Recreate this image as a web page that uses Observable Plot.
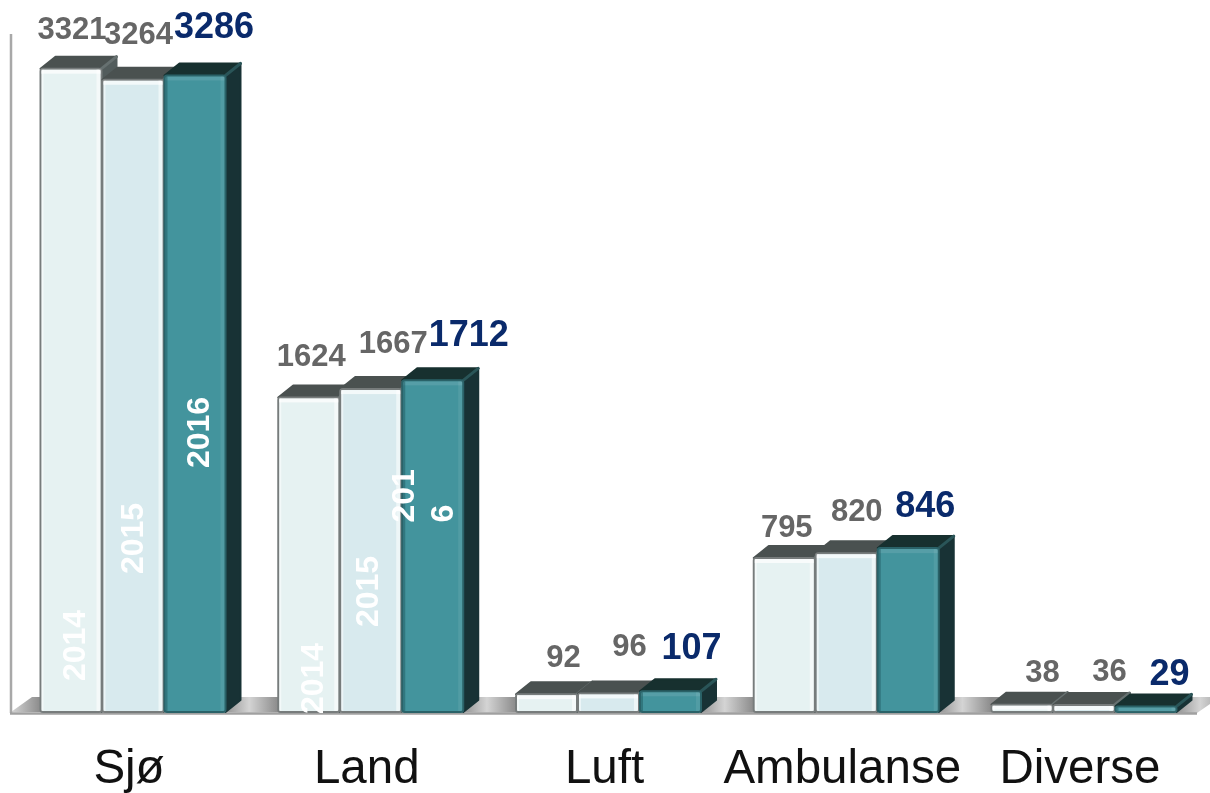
<!DOCTYPE html>
<html>
<head>
<meta charset="utf-8">
<script src="https://cdn.jsdelivr.net/npm/d3@7"></script>
<script src="https://cdn.jsdelivr.net/npm/@observablehq/plot@0.6"></script>
<style>
  html, body { margin: 0; padding: 0; background: #fff; }
  svg { display: block; filter: blur(0.45px); }
</style>
</head>
<body>
<div id="chart"></div>
<script>
// Data
const categories = ["Sjø", "Land", "Luft", "Ambulanse", "Diverse"];
const years = ["2014", "2015", "2016"];
const values2014 = [3321, 1624, 92, 795, 38];
const values2015 = [3264, 1667, 96, 820, 36];
const values2016 = [3286, 1712, 107, 846, 29];
const yearLabels = [
  {category: "Sjø", year: "2014", text: "2014"},
  {category: "Sjø", year: "2015", text: "2015"},
  {category: "Sjø", year: "2016", text: "2016"},
  {category: "Land", year: "2014", text: "2014"},
  {category: "Land", year: "2015", text: "2015"},
  {category: "Land", year: "2016", text: "201\n6"}
];

// Style
const frontColors = ["#e6f2f2", "#d8eaee", "#43949d"];
const topColors = {"#e6f2f2": "#4a5150", "#d8eaee": "#4a5150", "#43949d": "#17302f"};
const sideColors = {"#e6f2f2": "#525c5c", "#d8eaee": "#525c5c", "#43949d": "#183235"};
const bevelColors = {"#e6f2f2": "#667070", "#d8eaee": "#667070", "#43949d": "#2a5558"};
const edgeColors = {"#e6f2f2": "#777c7c", "#d8eaee": "#777c7c", "#43949d": "#2a6268"};
const depthX = 15, depthY = 12;
const boxLeft = 11;
const font = "'Liberation Sans', Arial, sans-serif";

// Hand-placed label offsets from each bar, as in the source slide
const valueNudges = {
  "2014": {dx: [0.5, 2, 16.5, 2, 20], dy: [-30, -32, -28, -21, -23]},
  "2015": {dx: [5, 22, 20.5, 10, 25], dy: [-36, -37, -38, -33, -25]},
  "2016": {dx: [18.5, 35.5, 20.5, 16.5, 23], dy: [-38, -35, -33, -32, -22]}
};
const yearNudges = [
  {dx: 1, dy: -67}, {dx: -2.5, dy: -174}, {dx: 1, dy: -280},
  {dx: 1.5, dy: -34}, {dx: -5.5, dy: -121}, {dx: -12, dy: -190, anchor: "start"}
];

const rows = categories.flatMap((category, i) =>
  [values2014, values2015, values2016].map((series, j) => ({category, year: years[j], value: series[i], i}))
);

const NS = "http://www.w3.org/2000/svg";
function el(name, attrs) {
  const e = document.createElementNS(NS, name);
  for (const k in attrs) e.setAttribute(k, attrs[k]);
  return e;
}

// Adds the 3D side and top faces behind every bar, plus its bevel highlights
function extrude(index, scales, values, dimensions, context, next) {
  const g = next(index, scales, values, dimensions, context);
  for (const rect of Array.from(g.querySelectorAll("rect"))) {
    const x = +rect.getAttribute("x"), y = +rect.getAttribute("y");
    const w = +rect.getAttribute("width"), h = +rect.getAttribute("height");
    const fill = rect.getAttribute("fill");
    const teal = fill === "#43949d";
    const side = el("polygon", {
      points: `${x + w},${y} ${x + w + depthX},${y - depthY} ${x + w + depthX},${y + h - depthY} ${x + w},${y + h}`,
      fill: sideColors[fill], stroke: sideColors[fill], "stroke-width": 2, "stroke-linejoin": "round"
    });
    const top = el("polygon", {
      points: `${x},${y} ${x + depthX},${y - depthY} ${x + w + depthX},${y - depthY} ${x + w},${y}`,
      fill: topColors[fill], stroke: topColors[fill], "stroke-width": 2, "stroke-linejoin": "round"
    });
    const bevel = el("line", {
      x1: x + w, y1: y, x2: x + w + depthX, y2: y - depthY,
      stroke: bevelColors[fill], "stroke-width": 3, "stroke-linecap": "round"
    });
    g.insertBefore(side, rect);
    g.insertBefore(top, rect);
    g.insertBefore(bevel, rect);
    rect.setAttribute("rx", 2.5);
    rect.setAttribute("stroke", edgeColors[fill]);
    rect.setAttribute("stroke-width", 2);
    const after = rect.nextSibling;
    const strips = [
      el("rect", {x: x + 1, y: y + 1, width: Math.max(w - 2, 0), height: Math.min(4, h), fill: "#fff", "fill-opacity": teal ? 0.1 : 0.7}),
      el("rect", {x: x + w - 5, y: y + 1, width: 4, height: Math.max(h - 2, 0), fill: "#fff", "fill-opacity": teal ? 0.08 : 0.55}),
      el("rect", {x: x + 1, y: y + 1, width: 2, height: Math.max(h - 2, 0), fill: teal ? "#1f5a60" : "#fff", "fill-opacity": teal ? 0.5 : 0.5})
    ];
    for (const s of strips) g.insertBefore(s, after);
  }
  return g;
}

// Floor and wall of the 3D chart box
function chartBox(index, scales, values, dimensions) {
  const {marginTop, width} = dimensions;
  const y0 = scales.y(0);
  const g = el("g", {});
  const defs = el("defs", {});
  const grad = el("linearGradient", {
    id: "floorGradient", gradientUnits: "userSpaceOnUse", spreadMethod: "repeat",
    x1: scales.fx(categories[0]), x2: scales.fx(categories[1]), y1: 0, y2: 0
  });
  [[0, "#8c8c8c"], [0.78, "#939393"], [0.88, "#d4d4d4"], [1, "#8c8c8c"]].forEach(([o, c]) =>
    grad.appendChild(el("stop", {offset: o, "stop-color": c})));
  defs.appendChild(grad);
  g.appendChild(defs);
  g.appendChild(el("polygon", {
    points: `${boxLeft},${y0} ${boxLeft + 21},${y0 - 15} ${width + 10},${y0 - 15} ${width - 13},${y0 + 1}`,
    fill: "url(#floorGradient)"
  }));
  g.appendChild(el("line", {x1: boxLeft, y1: marginTop, x2: boxLeft, y2: y0 + 1, stroke: "#a8a8a8", "stroke-width": 2.5}));
  g.appendChild(el("line", {x1: boxLeft - 1, y1: y0 + 1.5, x2: width - 13, y2: y0 + 1.5, stroke: "#a0a0a0", "stroke-width": 2.5}));
  return g;
}

const valueMarks = rows.map((d) => Plot.text([d], {
  fx: "category", x: "year", y: "value", text: (r) => String(r.value),
  textAnchor: "middle", lineAnchor: "bottom",
  dx: valueNudges[d.year].dx[d.i], dy: valueNudges[d.year].dy[d.i],
  fontFamily: font, fontWeight: "bold",
  fontSize: d.year === "2016" ? 36 : 31,
  fill: d.year === "2016" ? "#0a2a6b" : "#666666"
}));

const yearMarks = yearLabels.map((d, k) => Plot.text([d], {
  fx: "category", x: "year", y: () => 0, text: "text",
  rotate: -90, textAnchor: yearNudges[k].anchor ?? "middle", lineHeight: 1.2,
  dx: yearNudges[k].dx, dy: yearNudges[k].dy,
  fontFamily: font, fontWeight: "bold", fontSize: 32, fill: "#ffffff"
}));

const chart = Plot.plot({
  width: 1210,
  height: 793,
  marginLeft: boxLeft,
  marginRight: 4,
  marginTop: 34,
  marginBottom: 81,
  style: {fontFamily: font, background: "#fff", overflow: "hidden"},
  fx: {domain: categories, paddingInner: 0.2177, paddingOuter: 0.122, round: false, label: null, axis: null},
  x: {domain: years, padding: 0, round: false, axis: null, label: null},
  y: {domain: [0, 3500], axis: null, label: null},
  color: {domain: years, range: frontColors},
  marks: [
    Plot.frame({facet: "super", stroke: "none", fill: "none", render: chartBox}),
    Plot.barY(rows, {
      fx: "category", x: "year", y: "value", fill: "year",
      insetLeft: 0.5, insetRight: 0.5, render: extrude
    }),
    ...yearMarks,
    ...valueMarks,
    Plot.axisFx({
      anchor: "bottom", tickSize: 0, label: null, fontSize: 47.5, fill: "#111",
      tickPadding: 37, dx: -4.5, lineWidth: 20
    })
  ]
});
document.getElementById("chart").appendChild(chart);
</script>
</body>
</html>
